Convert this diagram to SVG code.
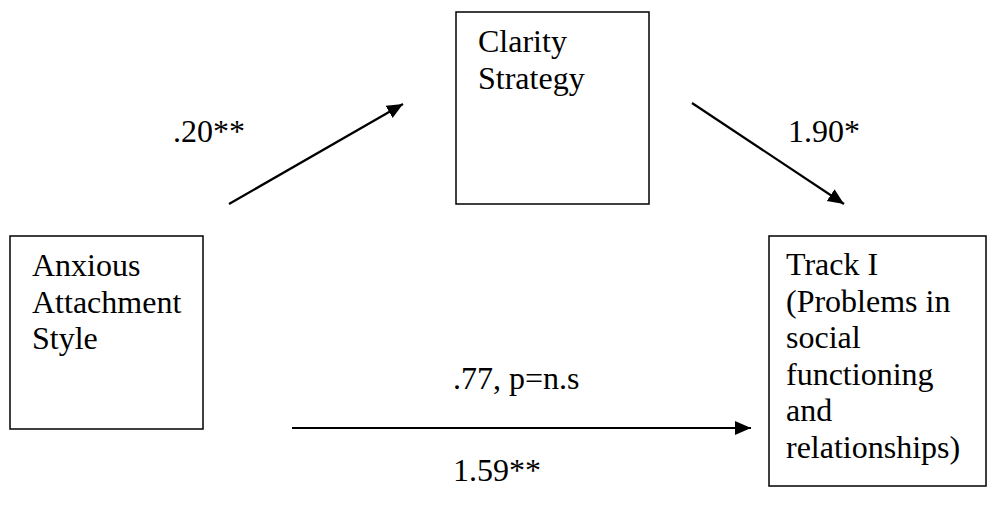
<svg xmlns="http://www.w3.org/2000/svg" width="989" height="505" viewBox="0 0 989 505">
<style>
.box{fill:#fff;stroke:#000;stroke-width:1.5}
.t{font-family:"Liberation Serif","Times New Roman",serif;font-size:32px;fill:#000}
.c{stroke:#000;stroke-width:2.2;fill:none;marker-end:url(#ah)}
</style>
<defs>
<marker id="ah" markerUnits="userSpaceOnUse" markerWidth="18" markerHeight="16" refX="16" refY="7" orient="auto">
<path d="M0,0 L16,7 L0,14 Z" fill="#000"/>
</marker>
</defs>
<rect width="989" height="505" fill="#fff"/>
<g id="anxious">
<rect class="box" x="10" y="236" width="193" height="193"/>
<text class="t" x="32" y="276">Anxious</text>
<text class="t" x="32" y="313">Attachment</text>
<text class="t" x="32" y="349">Style</text>
</g>
<g id="clarity">
<rect class="box" x="456" y="12" width="193" height="192"/>
<text class="t" x="478" y="52">Clarity</text>
<text class="t" x="478" y="89">Strategy</text>
</g>
<g id="track">
<rect class="box" x="769" y="236" width="217" height="250"/>
<text class="t" x="786" y="275">Track I</text>
<text class="t" x="786" y="312">(Problems in</text>
<text class="t" x="786" y="348">social</text>
<text class="t" x="786" y="385">functioning</text>
<text class="t" x="786" y="421">and</text>
<text class="t" x="786" y="458">relationships)</text>
</g>
<g id="connectors">
<line class="c" x1="229" y1="204" x2="403" y2="104"/>
<line class="c" x1="692" y1="103" x2="844" y2="204"/>
<line class="c" x1="292" y1="428" x2="751" y2="428"/>
</g>
<g id="labels">
<text class="t" x="173" y="142">.20**</text>
<text class="t" x="788" y="142">1.90*</text>
<text class="t" x="453" y="389">.77, p=n.s</text>
<text class="t" x="453" y="481">1.59**</text>
</g>
</svg>
